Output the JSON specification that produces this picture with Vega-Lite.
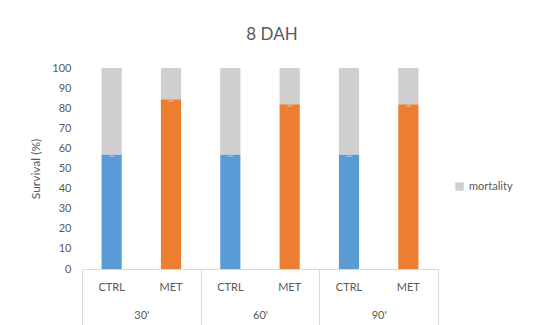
{
  "$schema": "https://vega.github.io/schema/vega-lite/v6.json",
  "width": 356,
  "height": 201,
  "autosize": {"type": "none"},
  "padding": {"left": 82, "top": 68, "right": 107, "bottom": 56},
  "background": "white",
  "config": {
    "view": {"stroke": null}, "font": "Lato",
    "axisY": {"labelColor": "#595959", "labelFontSize": 11, "labelPadding": 11, "titleColor": "#595959", "titleFontWeight": "normal", "titleFontSize": 12, "titlePadding": 9, "grid": false, "domain": false, "ticks": false, "labelOverlap": false}
  },
  "title": {"text": "8 DAH", "fontSize": 17, "fontWeight": "normal", "color": "#595959", "offset": 18, "dx": 12, "font": "Lato"},
  "datasets": {
    "bars": [
      {"time": "30'", "treat": "CTRL", "cat": "30' CTRL", "series": "CTRL", "ord": 1, "value": 57},
      {"time": "30'", "treat": "CTRL", "cat": "30' CTRL", "series": "mortality", "ord": 2, "value": 43},
      {"time": "30'", "treat": "MET", "cat": "30' MET", "series": "MET", "ord": 1, "value": 84.5},
      {"time": "30'", "treat": "MET", "cat": "30' MET", "series": "mortality", "ord": 2, "value": 15.5},
      {"time": "60'", "treat": "CTRL", "cat": "60' CTRL", "series": "CTRL", "ord": 1, "value": 57},
      {"time": "60'", "treat": "CTRL", "cat": "60' CTRL", "series": "mortality", "ord": 2, "value": 43},
      {"time": "60'", "treat": "MET", "cat": "60' MET", "series": "MET", "ord": 1, "value": 82},
      {"time": "60'", "treat": "MET", "cat": "60' MET", "series": "mortality", "ord": 2, "value": 18},
      {"time": "90'", "treat": "CTRL", "cat": "90' CTRL", "series": "CTRL", "ord": 1, "value": 57},
      {"time": "90'", "treat": "CTRL", "cat": "90' CTRL", "series": "mortality", "ord": 2, "value": 43},
      {"time": "90'", "treat": "MET", "cat": "90' MET", "series": "MET", "ord": 1, "value": 82},
      {"time": "90'", "treat": "MET", "cat": "90' MET", "series": "mortality", "ord": 2, "value": 18}
    ],
    "errs": [
      {"cat": "30' CTRL", "lo": 56, "hi": 58},
      {"cat": "30' MET", "lo": 83.5, "hi": 85.5},
      {"cat": "60' CTRL", "lo": 56, "hi": 58},
      {"cat": "60' MET", "lo": 81, "hi": 83},
      {"cat": "90' CTRL", "lo": 56, "hi": 58},
      {"cat": "90' MET", "lo": 81, "hi": 83}
    ],
    "times": [
      {"time": "30'"}, {"time": "60'"}, {"time": "90'"}
    ]
  },
  "layer": [
    {
      "layer": [
        {
          "data": {"name": "bars"},
          "mark": {"type": "bar", "width": {"band": 0.34}},
          "encoding": {
            "x": {
              "field": "cat", "type": "nominal", "sort": null,
              "scale": {"paddingInner": 0, "paddingOuter": 0},
              "axis": {
                "title": null, "labelAngle": 0, "ticks": false,
                "domainColor": "#d9d9d9", "labelColor": "#595959", "labelFontSize": 11,
                "labelPadding": 12, "labelExpr": "split(datum.value, ' ')[1]"
              }
            },
            "y": {
              "field": "value", "type": "quantitative", "stack": "zero",
              "scale": {"domain": [0, 100]},
              "axis": {"title": "Survival (%)", "values": [0,10,20,30,40,50,60,70,80,90,100]}
            },
            "color": {
              "field": "series", "type": "nominal",
              "scale": {"domain": ["CTRL", "MET", "mortality"], "range": ["#5B9BD5", "#ED7D31", "#D0CECE"]},
              "legend": {
                "values": ["mortality"], "title": null, "orient": "none",
                "legendX": 372, "legendY": 113, "symbolType": "square", "symbolSize": 70,
                "labelColor": "#595959", "labelFontSize": 11, "symbolStrokeWidth": 0
              }
            },
            "order": {"field": "ord", "type": "quantitative"}
          }
        },
        {
          "data": {"name": "errs"},
          "mark": {"type": "rule", "color": "#c8c8c8", "strokeWidth": 1},
          "encoding": {
            "x": {
              "field": "cat", "type": "nominal", "sort": null,
              "axis": {
                "title": null, "labelAngle": 0, "ticks": false,
                "domainColor": "#d9d9d9", "labelColor": "#595959", "labelFontSize": 11,
                "labelPadding": 12, "labelExpr": "split(datum.value, ' ')[1]"
              }
            },
            "y": {"field": "lo", "type": "quantitative", "axis": {"title": "Survival (%)", "values": [0,10,20,30,40,50,60,70,80,90,100]}},
            "y2": {"field": "hi"}
          }
        },
        {
          "data": {"name": "errs"},
          "mark": {"type": "tick", "color": "#c8c8c8", "size": 6, "thickness": 1},
          "encoding": {
            "x": {
              "field": "cat", "type": "nominal", "sort": null,
              "axis": {
                "title": null, "labelAngle": 0, "ticks": false,
                "domainColor": "#d9d9d9", "labelColor": "#595959", "labelFontSize": 11,
                "labelPadding": 12, "labelExpr": "split(datum.value, ' ')[1]"
              }
            },
            "y": {"field": "lo", "type": "quantitative", "axis": {"title": "Survival (%)", "values": [0,10,20,30,40,50,60,70,80,90,100]}}
          }
        }
      ]
    },
    {
      "data": {"name": "times"},
      "mark": {"type": "rule", "opacity": 0},
      "encoding": {
        "x": {
          "field": "time", "type": "nominal", "sort": null,
          "scale": {"paddingInner": 0, "paddingOuter": 0},
          "axis": {
            "orient": "bottom", "title": null, "labelAngle": 0, "domain": false,
            "ticks": true, "tickBand": "extent", "tickSize": 56, "tickColor": "#d9d9d9",
            "labelPadding": -16, "labelColor": "#595959", "labelFontSize": 11
          }
        }
      }
    }
  ],
  "resolve": {"scale": {"x": "independent"}}
}
